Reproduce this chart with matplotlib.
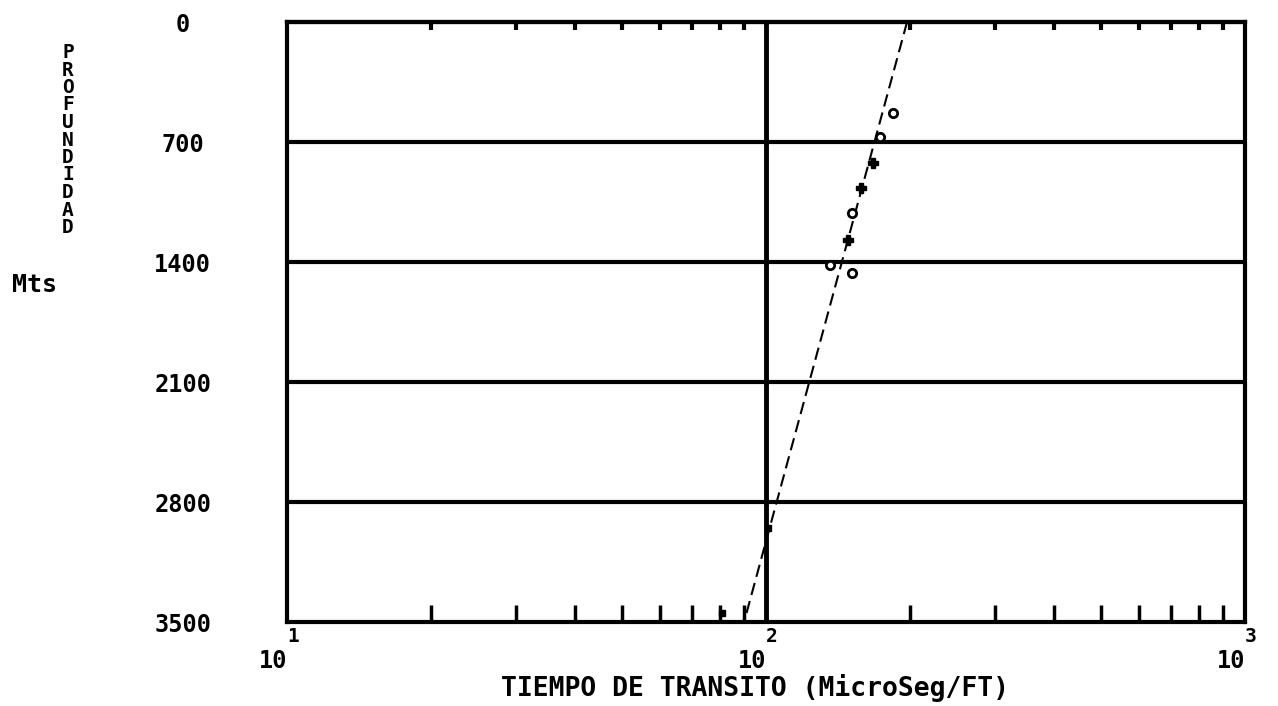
import matplotlib
matplotlib.use("Agg")
import matplotlib.pyplot as plt
from matplotlib.ticker import FixedLocator, LogLocator, NullFormatter

# --- datos ---
depth_ticks = [0, 700, 1400, 2100, 2800, 3500]
depth_labels = ["0", "700", "1400", "2100", "2800", "3500"]
decades = [10, 100, 1000]
decade_exp = ["1", "2", "3"]

# puntos medidos (tiempo de transito, profundidad)
circ_tt = [184, 173, 151, 136, 151]
circ_depth = [531, 671, 1114, 1418, 1464]
plus_tt = [167, 158, 148]
plus_depth = [822, 968, 1272]
deep_tt = [101, 81]
deep_depth = [2950, 3450]

# recta de tendencia
fit_tt = [197, 90]
fit_depth = [0, 3500]

FONT = dict(family="DejaVu Sans Mono", fontweight="bold")

fig = plt.figure(figsize=(12.78, 7.06), dpi=100)
ax = fig.add_axes([287 / 1278, 1 - 622 / 706, (1245 - 287) / 1278, 600 / 706])

ax.set_xscale("log")
ax.set_xlim(10, 1000)
ax.set_ylim(3500, 0)

# lineas de cuadricula
for d in depth_ticks[1:-1]:
    ax.axhline(d, color="black", lw=3, zorder=1)
ax.axvline(100, color="black", lw=3.5, zorder=1)

ax.plot(fit_tt, fit_depth, color="black", lw=1.5, ls=(0, (6, 3)), zorder=2)
ax.plot(circ_tt, circ_depth, ls="none", marker="o", ms=6, mfc="white",
        mec="black", mew=2, zorder=3)
ax.plot(plus_tt, plus_depth, ls="none", marker="P", ms=7, color="black", zorder=3)
ax.plot(deep_tt, deep_depth, ls="none", marker="s", ms=5, color="black", zorder=3)

for s in ax.spines.values():
    s.set_linewidth(3)

ax.yaxis.set_major_locator(FixedLocator(depth_ticks))
ax.set_yticklabels(depth_labels, ha="center", **FONT, fontsize=17)
ax.tick_params(axis="y", direction="in", length=6, width=2, pad=75,
               left=True, right=False)

ax.xaxis.set_major_locator(FixedLocator(decades))
ax.xaxis.set_minor_locator(LogLocator(base=10, subs=range(2, 10)))
ax.xaxis.set_major_formatter(NullFormatter())
ax.xaxis.set_minor_formatter(NullFormatter())
ax.tick_params(axis="x", which="both", direction="in", width=2.5,
               top=False, bottom=True)
ax.tick_params(axis="x", which="major", length=0)
ax.tick_params(axis="x", which="minor", length=12)

# marcas cortas arriba
top = ax.secondary_xaxis("top")
top.xaxis.set_major_locator(FixedLocator(decades))
top.xaxis.set_minor_locator(LogLocator(base=10, subs=range(2, 10)))
top.xaxis.set_major_formatter(NullFormatter())
top.xaxis.set_minor_formatter(NullFormatter())
top.tick_params(which="both", direction="in", width=3)
top.tick_params(which="major", length=0)
top.tick_params(which="minor", length=6)
top.spines["top"].set_linewidth(3)

# etiquetas del eje x: 10 con exponente
tr = ax.get_xaxis_transform()
for v, e in zip(decades, decade_exp):
    ax.text(v, -0.065, "10", transform=tr, ha="right", va="center",
            fontsize=17, **FONT)
    ax.text(v, -0.025, e, transform=tr, ha="left", va="center",
            fontsize=14, **FONT)

fig.text(755 / 1278, 1 - 688 / 706, "TIEMPO DE TRANSITO (MicroSeg/FT)",
         ha="center", va="center", fontsize=19, **FONT)
fig.text(68 / 1278, 1 - 140 / 706, "\n".join("PROFUNDIDAD"),
         ha="center", va="center", fontsize=14, linespacing=0.9, **FONT)
fig.text(12 / 1278, 1 - 285 / 706, "Mts", ha="left", va="center",
         fontsize=18, **FONT)

fig.savefig("out.png", dpi=100)
